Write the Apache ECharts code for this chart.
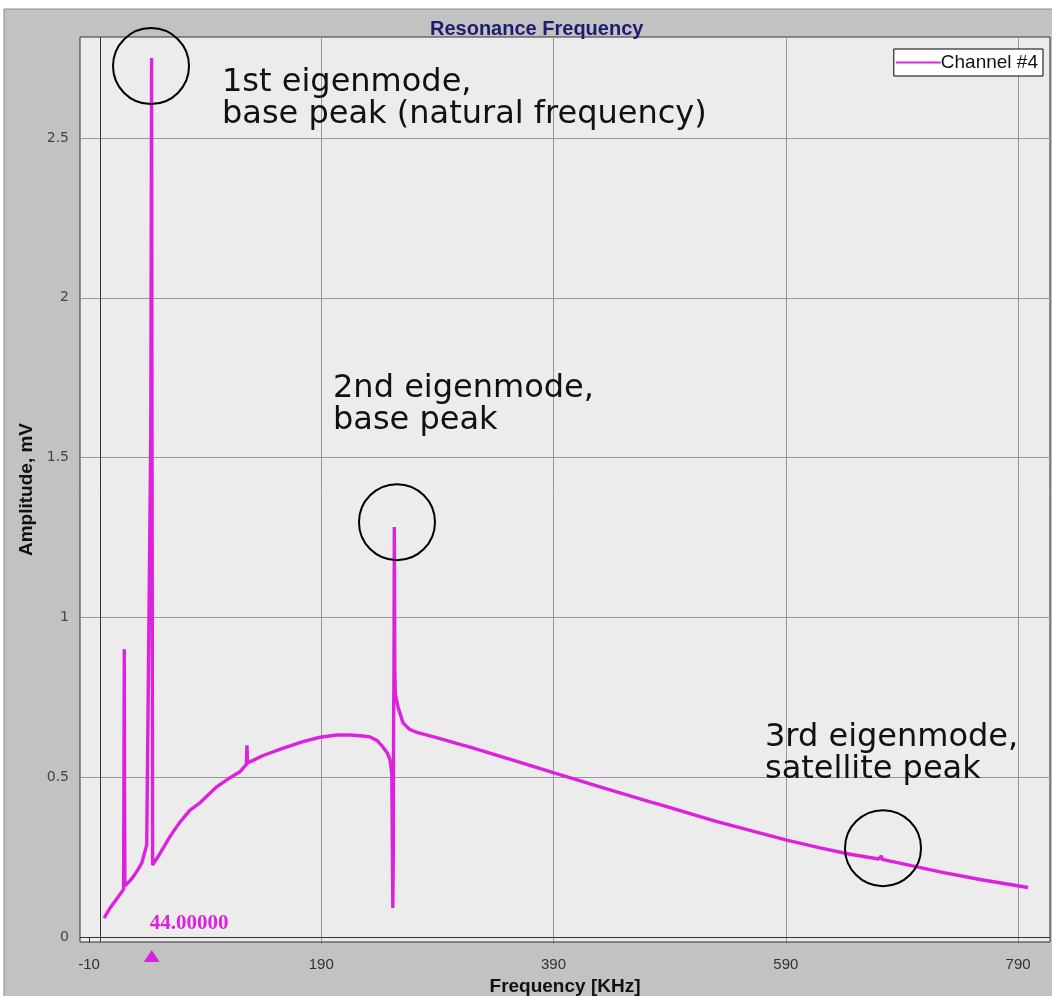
<!DOCTYPE html>
<html>
<head>
<meta charset="utf-8">
<script src="https://cdn.jsdelivr.net/npm/echarts@6/dist/echarts.min.js"></script>
<style>
html,body{margin:0;padding:0;background:#fff;}
#chart{width:1052px;height:996px;}
</style>
</head>
<body>
<div id="chart"></div>
<script>
// ---- data ----
const freq = [3, 8, 13, 18, 19.8, 20.1, 20.4, 20.6, 20.9, 25, 28.2, 32, 35.4, 39.7,
  43.2, 43.9, 44.3, 44.8, 46, 50, 55, 59.7, 68, 77, 85.6, 100, 110, 120, 125.5, 126.0, 126.5, 128.6,
  140, 157.3, 175, 188.9, 203.3, 214.8, 226, 232, 238, 243.2, 247, 249.2, 250.7, 251.3, 251.6,
  252.0, 252.3, 252.6, 252.9, 253.3, 253.8, 256.1, 260.4, 266, 272.4, 290, 309.5, 318.1, 350,
  389.8, 430, 473.1, 481.7, 530, 590.8, 619.5, 645.3, 670, 672.3, 673, 700, 722.8, 757.2, 798.6];
const amp = [0.059, 0.09, 0.115, 0.14, 0.15, 0.52, 0.90, 0.52, 0.16, 0.175, 0.189, 0.21, 0.231, 0.288,
  1.58, 2.75, 1.50, 0.225, 0.232, 0.255, 0.285, 0.314, 0.358, 0.397, 0.42, 0.47, 0.495, 0.517, 0.54, 0.60, 0.545, 0.548,
  0.568, 0.591, 0.612, 0.625, 0.632, 0.632, 0.629, 0.626, 0.615, 0.594, 0.575, 0.554, 0.513, 0.24, 0.091,
  0.24, 0.685, 0.83, 1.283, 0.84, 0.76, 0.72, 0.67, 0.65, 0.64, 0.623, 0.603, 0.594, 0.559,
  0.514, 0.47, 0.423, 0.414, 0.362, 0.303, 0.279, 0.259, 0.244, 0.254, 0.243, 0.222, 0.204, 0.18, 0.155];
const xTicks = [-10, 190, 390, 590, 790];
const yTicks = [0, 0.5, 1, 1.5, 2, 2.5];
const seriesName = 'Channel #4';
const peakFreq = 44;
const peakLabel = '44.00000';
const peakCircles = [[43.4, 2.725], [255.2, 1.298], [673.7, 0.278]];
const notes = [
  '1st eigenmode,\nbase peak (natural frequency)',
  '2nd eigenmode,\nbase peak',
  '3rd eigenmode,\nsatellite peak'
];

const MAG = '#dd22dd';
const SANS = '"Liberation Sans", Arial, sans-serif';
const NOTE_FONT = '32px "DejaVu Sans", Verdana, sans-serif';

const chart = echarts.init(document.getElementById('chart'), null, {renderer: 'canvas'});

const gridLines = [];
yTicks.filter(v => v > 0).forEach(v => gridLines.push({yAxis: v, lineStyle: {color: '#979797', width: 1, type: 'solid'}}));
xTicks.filter(v => v > 0).forEach(v => gridLines.push({xAxis: v, lineStyle: {color: '#979797', width: 1, type: 'solid'}}));
gridLines.push({yAxis: 0, lineStyle: {color: '#333', width: 1, type: 'solid'}});
gridLines.push({xAxis: 0, lineStyle: {color: '#333', width: 1, type: 'solid'}});

const option = {
  animation: false,
  backgroundColor: '#ffffff',
  title: {
    text: 'Resonance Frequency',
    left: 425,
    top: 14,
    textStyle: {color: '#1c1c70', fontFamily: SANS, fontWeight: 'bold', fontSize: 20}
  },
  legend: {
    data: [seriesName],
    right: 9,
    top: 49,
    orient: 'horizontal',
    icon: 'rect',
    itemWidth: 45,
    itemHeight: 2,
    itemGap: 0,
    backgroundColor: '#ffffff',
    borderColor: '#000',
    borderWidth: 1,
    borderRadius: 0,
    padding: [4, 5, 4, 2],
    textStyle: {color: '#111', fontFamily: SANS, fontSize: 19, padding: [0, 0, 0, -5]}
  },
  grid: {
    left: 80, top: 37, right: 2, bottom: 54,
    outerBoundsMode: 'none',
    show: true, backgroundColor: '#ececec', borderColor: '#333', borderWidth: 1,
    containLabel: false
  },
  xAxis: {
    type: 'value',
    min: -17.75, max: 817.5,
    name: 'Frequency [KHz]',
    nameLocation: 'middle',
    nameGap: 29,
    nameTextStyle: {color: '#111', fontFamily: SANS, fontWeight: 'bold', fontSize: 19},
    axisLine: {show: false},
    axisTick: {show: true, customValues: xTicks, length: 6, lineStyle: {color: '#333'}},
    axisLabel: {show: true, customValues: xTicks, margin: 15, color: '#333', fontFamily: SANS, fontSize: 15},
    splitLine: {show: false}
  },
  yAxis: {
    type: 'value',
    min: -0.0156, max: 2.816,
    name: 'Amplitude, mV',
    nameLocation: 'middle',
    nameGap: 35,
    nameRotate: 90,
    nameTextStyle: {color: '#111', fontFamily: SANS, fontWeight: 'bold', fontSize: 19},
    axisLine: {show: false},
    axisTick: {show: true, customValues: yTicks, length: 7, lineStyle: {color: '#333'}},
    axisLabel: {show: true, customValues: yTicks, margin: 11, color: '#444', fontFamily: '"DejaVu Sans", sans-serif', fontSize: 14},
    splitLine: {show: false}
  },
  series: [{
    name: seriesName,
    type: 'line',
    data: freq.map((f, i) => [f, amp[i]]),
    symbol: 'none',
    z: 3,
    lineStyle: {color: MAG, width: 3.4},
    itemStyle: {color: MAG},
    markLine: {
      silent: true, symbol: 'none', z: 1, animation: false,
      label: {show: false},
      data: gridLines
    },
    markPoint: {
      silent: true, animation: false,
      symbol: 'circle', symbolSize: 76,
      itemStyle: {color: 'rgba(0,0,0,0)', borderColor: '#000', borderWidth: 2},
      label: {show: false},
      data: peakCircles.map(c => ({coord: c}))
    }
  }]
};
chart.setOption(option);

const pk = chart.convertToPixel({gridIndex: 0}, [peakFreq, 0]);
chart.setOption({
  graphic: [
    {type: 'rect', z: -10, silent: true, shape: {x: 4, y: 9, width: 1052, height: 1000},
     style: {fill: '#c2c2c2', stroke: '#8a8a8a', lineWidth: 1}},
    {type: 'text', left: 222, top: 67, z: 50, style: {text: notes[0], font: NOTE_FONT, fill: '#111', lineHeight: 32}},
    {type: 'text', left: 333, top: 373, z: 50, style: {text: notes[1], font: NOTE_FONT, fill: '#111', lineHeight: 32}},
    {type: 'text', left: 765, top: 722, z: 50, style: {text: notes[2], font: NOTE_FONT, fill: '#111', lineHeight: 32}},
    {type: 'text', x: pk[0] - 2, y: pk[1] - 24, z: 50, style: {text: peakLabel, font: 'bold 21px "Liberation Serif", "Times New Roman", serif', fill: MAG}},
    {type: 'polygon', z: 50, shape: {points: [[pk[0], pk[1] + 13], [pk[0] - 8, pk[1] + 25], [pk[0] + 8, pk[1] + 25]]}, style: {fill: MAG}}
  ]
});
</script>
</body>
</html>
